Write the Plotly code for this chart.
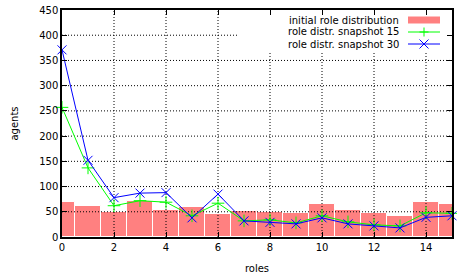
import plotly.graph_objects as go

roles = list(range(16))
initial = [70, 62, 49, 71, 54, 59, 46, 52, 49, 47, 65, 54, 48, 42, 69, 65]
snap15 = [257, 137, 62, 72, 69, 42, 67, 32, 34, 28, 42, 30, 24, 22, 48, 47]
snap30 = [371, 152, 78, 87, 88, 38, 85, 32, 29, 26, 38, 26, 22, 18, 39, 42]

legend_labels = ["initial role distribution", "role distr. snapshot 15", "role distr. snapshot 30"]
x_ticks = list(range(0, 16, 2))
y_ticks = list(range(0, 451, 50))

BAR = "#ff8080"
GREEN = "#00ff00"
BLUE = "#0000ff"
FONT = "DejaVu Sans"
FS = 10

W, H = 457, 280
L, R, T, B = 62, 452, 10, 237
pw, ph = R - L, B - T
XMAX, YMAX = 15, 450

def fx(px):
    return (px - L) / pw

def fy(py):
    return (B - py) / ph

# legend box extent (grid is hidden behind it)
box_x0 = fx(238) * XMAX
box_y0 = fy(53) * YMAX

fig = go.Figure()
fig.add_trace(go.Bar(x=roles, y=initial, width=1.0, marker=dict(color=BAR, line=dict(color="white", width=1)),
                     showlegend=False, hoverinfo="skip"))

# gnuplot-style dotted grid drawn over the bars
gx, gy = [], []
for t in y_ticks[1:-1]:
    gx += [0, box_x0 if t > box_y0 else XMAX, None]
    gy += [t, t, None]
for t in x_ticks[1:]:
    gx += [t, t, None]
    gy += [0, box_y0 if t > box_x0 else YMAX, None]
fig.add_trace(go.Scatter(x=gx, y=gy, mode="lines", line=dict(color="black", width=1, dash="1px,2px"),
                         showlegend=False, hoverinfo="skip"))

fig.add_trace(go.Scatter(x=roles, y=snap15, mode="lines+markers", line=dict(color=GREEN, width=1),
                         marker=dict(symbol="cross-thin-open", size=9, line=dict(color=GREEN, width=1)),
                         showlegend=False, cliponaxis=False))
fig.add_trace(go.Scatter(x=roles, y=snap30, mode="lines+markers", line=dict(color=BLUE, width=1),
                         marker=dict(symbol="x-thin-open", size=9, line=dict(color=BLUE, width=1)),
                         showlegend=False, cliponaxis=False))

# manual gnuplot-style legend (text right, sample left)
rows_py = [20, 32, 44]
shapes = [dict(type="rect", xref="x domain", yref="y domain", x0=fx(408), x1=fx(440),
               y0=fy(rows_py[0] + 3.5), y1=fy(rows_py[0] - 3.5), fillcolor=BAR, line=dict(width=0), layer="above")]
for py, col in [(rows_py[1], GREEN), (rows_py[2], BLUE)]:
    shapes.append(dict(type="line", xref="x domain", yref="y domain", x0=fx(408), x1=fx(440),
                       y0=fy(py), y1=fy(py), line=dict(color=col, width=1), layer="above"))
cx = fx(424)
m = 4.5
for (dx0, dy0, dx1, dy1) in [(-m, 0, m, 0), (0, -m, 0, m)]:
    shapes.append(dict(type="line", xref="x domain", yref="y domain", xsizemode="pixel", ysizemode="pixel",
                       xanchor=cx, yanchor=fy(rows_py[1]), x0=dx0, x1=dx1, y0=dy0, y1=dy1,
                       line=dict(color=GREEN, width=1), layer="above"))
for (dx0, dy0, dx1, dy1) in [(-m, -m, m, m), (-m, m, m, -m)]:
    shapes.append(dict(type="line", xref="x domain", yref="y domain", xsizemode="pixel", ysizemode="pixel",
                       xanchor=cx, yanchor=fy(rows_py[2]), x0=dx0, x1=dx1, y0=dy0, y1=dy1,
                       line=dict(color=BLUE, width=1), layer="above"))
annotations = []
for lab, py in zip(legend_labels, rows_py):
    annotations.append(dict(text=lab, xref="x domain", yref="y domain", x=fx(401), y=fy(py),
                            xanchor="right", yanchor="middle", showarrow=False,
                            font=dict(family=FONT, size=FS, color="black")))

axis_common = dict(showline=True, linecolor="black", linewidth=1.5, mirror="ticks", ticks="inside",
                   ticklen=5, tickcolor="black", tickwidth=1, showgrid=False, zeroline=False,
                   tickfont=dict(family=FONT, size=FS, color="black"))

fig.update_layout(
    width=W, height=H, margin=dict(l=L, r=W - R, t=T, b=H - B, autoexpand=False),
    paper_bgcolor="white", plot_bgcolor="white", bargap=0, showlegend=False,
    xaxis=dict(range=[0, XMAX], tickvals=x_ticks, title=dict(text="roles", standoff=13,
               font=dict(family=FONT, size=FS, color="black")), **axis_common),
    yaxis=dict(range=[0, YMAX], tickvals=y_ticks, title=dict(text="agents", standoff=19,
               font=dict(family=FONT, size=FS, color="black")), **axis_common),
    shapes=shapes, annotations=annotations,
)
fig.write_html("out.html", config={"displayModeBar": False},
               post_script="document.body.style.margin='0';document.body.style.padding='0';")
